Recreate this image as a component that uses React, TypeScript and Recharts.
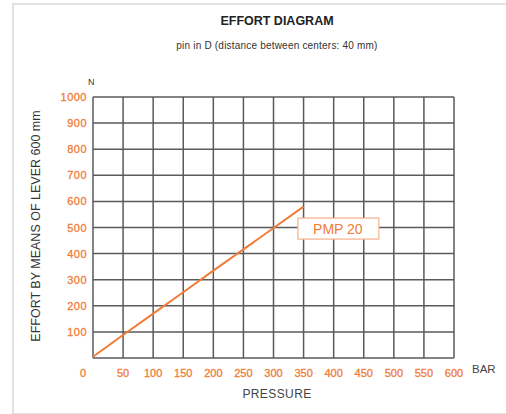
import React from 'react';
import {
  LineChart,
  Line,
  XAxis,
  YAxis,
  CartesianGrid,
  ReferenceDot,
} from 'recharts';

const pressure = [0, 50, 100, 150, 200, 250, 300, 350];
const effortPmp20 = [5, 88, 170, 252, 335, 416, 498, 580];
const xTicks = [0, 50, 100, 150, 200, 250, 300, 350, 400, 450, 500, 550, 600];
const yTicks = [0, 100, 200, 300, 400, 500, 600, 700, 800, 900, 1000];
const seriesName = 'PMP 20';

const data = pressure.map((p, i) => ({ p, effort: effortPmp20[i] }));

const ORANGE = '#f07c38';
const GRID = '#5a5a5a';
const FONT = '"Liberation Sans", Arial, sans-serif';

const XTick = ({ x, y, payload }: any) => (
  <text
    x={payload.value === 0 ? x - 10 : x}
    y={y + 11}
    textAnchor="middle"
    fill={ORANGE}
    fontSize={11}
    fontFamily={FONT}
    stroke={ORANGE}
    strokeWidth={0.3}
  >
    {payload.value}
  </text>
);

const YTick = ({ x, y, payload }: any) =>
  payload.value === 0 ? null : (
    <text
      x={x + 2}
      y={y + 4}
      textAnchor="end"
      fill={ORANGE}
      fontSize={11}
      letterSpacing={0.5}
      fontFamily={FONT}
      stroke={ORANGE}
      strokeWidth={0.3}
    >
      {payload.value}
    </text>
  );

const SeriesTag = ({ cx, cy }: any) => (
  <g>
    <rect
      x={cx - 40}
      y={cy - 11}
      width={81}
      height={21}
      fill="#fff"
      stroke="#f6b08a"
      strokeWidth={1.2}
    />
    <text
      x={cx}
      y={cy + 5}
      textAnchor="middle"
      fill={ORANGE}
      fontSize={14}
      fontFamily={FONT}
    >
      {seriesName}
    </text>
  </g>
);

export default function App() {
  return (
    <div
      style={{
        position: 'absolute',
        left: 0,
        top: 0,
        width: 506,
        height: 414,
        background: '#fff',
        fontFamily: FONT,
      }}
    >
      <div
        style={{
          position: 'absolute',
          left: 12,
          top: 3,
          width: 494,
          height: 408,
          borderLeft: '2px solid #e2e2e2',
          borderTop: '2px solid #e2e2e2',
          borderBottom: '2px solid #e2e2e2',
        }}
      />
      <div
        style={{
          position: 'absolute',
          left: 0,
          width: 554,
          top: 14,
          textAlign: 'center',
          fontSize: 12.5,
          fontWeight: 'bold',
          color: '#222',
        }}
      >
        EFFORT DIAGRAM
      </div>
      <div
        style={{
          position: 'absolute',
          left: 0,
          width: 554,
          top: 40,
          textAlign: 'center',
          fontSize: 10,
          letterSpacing: 0.2,
          color: '#333',
        }}
      >
        pin in D (distance between centers: 40 mm)
      </div>
      <div
        style={{ position: 'absolute', left: 88, top: 77, fontSize: 9, color: '#333' }}
      >
        N
      </div>
      <div
        style={{ position: 'absolute', left: 472, top: 363, fontSize: 11.5, color: '#444' }}
      >
        BAR
      </div>
      <div
        style={{
          position: 'absolute',
          left: 0,
          width: 554,
          top: 387,
          textAlign: 'center',
          fontSize: 12,
          letterSpacing: 0.4,
          color: '#444',
        }}
      >
        PRESSURE
      </div>
      <div
        style={{
          position: 'absolute',
          left: 36,
          top: 226,
          transform: 'translate(-50%, -50%) rotate(-90deg)',
          whiteSpace: 'nowrap',
          fontSize: 12.5,
          color: '#333',
        }}
      >
        EFFORT BY MEANS OF LEVER 600 mm
      </div>
      <div style={{ position: 'absolute', left: 0, top: 0 }}>
        <LineChart
          width={506}
          height={414}
          data={data}
          margin={{ top: 97, right: 52, bottom: 26, left: 33 }}
        >
          <CartesianGrid stroke={GRID} strokeWidth={1.5} />
          <XAxis
            dataKey="p"
            type="number"
            domain={[0, 600]}
            ticks={xTicks}
            axisLine={false}
            tickLine={false}
            height={30}
            tick={<XTick />}
            interval={0}
          />
          <YAxis
            type="number"
            domain={[0, 1000]}
            ticks={yTicks}
            axisLine={false}
            tickLine={false}
            width={60}
            tick={<YTick />}
            interval={0}
          />
          <Line
            dataKey="effort"
            stroke={ORANGE}
            strokeWidth={2}
            dot={false}
            isAnimationActive={false}
          />
          <ReferenceDot x={407} y={494} r={0} shape={<SeriesTag />} />
        </LineChart>
      </div>
    </div>
  );
}
